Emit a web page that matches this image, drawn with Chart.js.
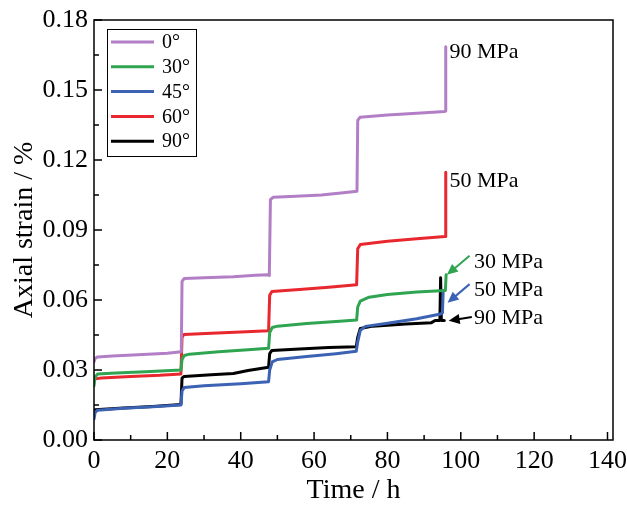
<!DOCTYPE html>
<html>
<head>
<meta charset="utf-8">
<script src="https://cdn.jsdelivr.net/npm/chart.js@4.4.1/dist/chart.umd.min.js"></script>
<style>
  html, body { margin: 0; padding: 0; background: #fff; }
  #wrap { width: 627px; height: 505px; }
</style>
</head>
<body>
<div id="wrap"><canvas id="strainChart" width="627" height="505"></canvas></div>
<script>
// Series labels (bedding angle)
const angleLabels = ['0°', '30°', '45°', '60°', '90°'];

// 0 deg
const time0 = [0, 0.3, 1, 5, 12, 20, 23.8, 24.0, 24.6, 30, 38, 44, 47.4, 47.8, 48.1, 48.8, 55, 62, 68, 71.7, 71.9, 72.5, 80, 88, 95.6, 95.8, 95.9];
const strain0 = [0.0335, 0.0350, 0.0356, 0.0360, 0.0365, 0.0372, 0.0378, 0.0680, 0.0692, 0.0695, 0.0700, 0.0706, 0.0708, 0.0705, 0.1030, 0.1040, 0.1045, 0.1050, 0.1060, 0.1066, 0.1370, 0.1383, 0.1393, 0.1400, 0.1408, 0.1410, 0.1685];

// 30 deg
const time30 = [0, 0.3, 1, 6, 14, 23.7, 24.0, 24.6, 26, 34, 42, 47.6, 47.9, 48.6, 50, 58, 66, 71.6, 71.9, 72.6, 75, 80, 88, 95.8, 96.0];
const strain30 = [0.0232, 0.0270, 0.0283, 0.0287, 0.0292, 0.0300, 0.0345, 0.0362, 0.0368, 0.0378, 0.0387, 0.0393, 0.0460, 0.0482, 0.0488, 0.0499, 0.0508, 0.0514, 0.0570, 0.0595, 0.0612, 0.0624, 0.0634, 0.0641, 0.0708];

// 45 deg
const time45 = [0, 0.3, 1, 8, 16, 23.7, 24.0, 24.6, 30, 40, 47.6, 47.9, 48.6, 50, 58, 66, 71.5, 71.9, 72.6, 74, 80, 88, 94.5, 95.0, 95.2];
const strain45 = [0.0090, 0.0118, 0.0128, 0.0136, 0.0143, 0.0150, 0.0210, 0.0225, 0.0232, 0.0241, 0.0250, 0.0300, 0.0335, 0.0345, 0.0358, 0.0370, 0.0380, 0.0420, 0.0470, 0.0487, 0.0500, 0.0520, 0.0540, 0.0545, 0.0640];

// 60 deg
const time60 = [0, 0.3, 2, 10, 18, 23.7, 24.0, 24.5, 32, 40, 47.6, 47.9, 48.5, 56, 64, 71.6, 71.9, 72.6, 80, 88, 95.7, 95.9];
const strain60 = [0.0255, 0.0262, 0.0266, 0.0272, 0.0277, 0.0283, 0.0440, 0.0452, 0.0458, 0.0463, 0.0468, 0.0620, 0.0636, 0.0645, 0.0655, 0.0665, 0.0820, 0.0838, 0.0852, 0.0863, 0.0872, 0.1148];

// 90 deg
const time90 = [0, 0.3, 8, 16, 23.7, 24.0, 24.5, 32, 38, 42, 47.6, 47.9, 48.5, 56, 64, 71.5, 71.9, 72.6, 76, 85, 92, 93, 94.3, 94.5, 94.7, 95.5];
const strain90 = [0.0125, 0.0130, 0.0137, 0.0144, 0.0152, 0.0265, 0.0272, 0.0280, 0.0285, 0.0298, 0.0312, 0.0370, 0.0384, 0.0390, 0.0396, 0.0400, 0.0440, 0.0478, 0.0488, 0.0497, 0.0503, 0.0512, 0.0512, 0.0695, 0.0512, 0.0512];

// Axis ticks
const xTicks = [0, 20, 40, 60, 80, 100, 120, 140];
const yTicks = [0, 0.03, 0.06, 0.09, 0.12, 0.15, 0.18];

// Stress labels at the end of each creep test
const stressLabels = ['90 MPa', '50 MPa', '30 MPa', '50 MPa', '90 MPa'];

const seriesTimes = [time0, time30, time45, time60, time90];
const seriesStrains = [strain0, strain30, strain45, strain60, strain90];
const lineColors = ['#b27fc6', '#2fa552', '#3c62b4', '#e8282e', '#000000'];

const serif = "'Liberation Serif', 'Times New Roman', serif";

const datasets = angleLabels.map((label, i) => ({
    label: label,
    data: seriesTimes[i].map((t, k) => ({ x: t, y: seriesStrains[i][k] })),
    borderColor: lineColors[i],
    backgroundColor: lineColors[i],
    borderWidth: 3,
    pointRadius: 0,
    tension: 0,
    borderJoinStyle: 'round',
    borderCapStyle: 'round',
    fill: false
}));

// Frame and inward major/minor ticks
const frameTicks = {
    id: 'frameTicks',
    afterDraw(chart) {
        const { ctx, chartArea: a, scales: { x, y } } = chart;
        ctx.save();
        ctx.strokeStyle = '#000';
        ctx.lineWidth = 1.5;
        ctx.strokeRect(a.left, a.top, a.right - a.left, a.bottom - a.top);
        ctx.beginPath();
        for (let v = 0; v <= 140; v += 10) {
            const px = x.getPixelForValue(v);
            const len = v % 20 === 0 ? 8 : 5;
            ctx.moveTo(px, a.bottom);
            ctx.lineTo(px, a.bottom - len);
        }
        for (let i = 0; i <= 12; i++) {
            const py = y.getPixelForValue(i * 0.015);
            const len = i % 2 === 0 ? 8 : 5;
            ctx.moveTo(a.left, py);
            ctx.lineTo(a.left + len, py);
        }
        ctx.stroke();
        ctx.restore();
    }
};

// Legend box in the top left corner
const boxLegend = {
    id: 'boxLegend',
    afterDraw(chart) {
        const { ctx, chartArea: a } = chart;
        const left = a.left + 13, top = a.top + 9;
        ctx.save();
        ctx.fillStyle = '#fff';
        ctx.fillRect(left, top, 89, 127);
        ctx.strokeStyle = '#000';
        ctx.lineWidth = 1;
        ctx.strokeRect(left + 0.5, top + 0.5, 89, 127);
        ctx.font = '20px ' + serif;
        ctx.textBaseline = 'middle';
        chart.data.datasets.forEach((ds, i) => {
            const cy = top + 13 + i * 24.8;
            ctx.strokeStyle = ds.borderColor;
            ctx.lineWidth = 3;
            ctx.beginPath();
            ctx.moveTo(left + 4, cy);
            ctx.lineTo(left + 47, cy);
            ctx.stroke();
            ctx.fillStyle = '#000';
            ctx.fillText(ds.label, left + 55, cy + 1);
        });
        ctx.restore();
    }
};

// Stress annotations (in data coordinates) with arrows
const stressNotes = {
    id: 'stressNotes',
    afterDatasetsDraw(chart) {
        const { ctx, scales: { x, y } } = chart;
        const notes = [
            { t: 96.9, s: 0.1663, arrow: null },
            { t: 96.9, s: 0.1110, arrow: null },
            { t: 103.6, s: 0.0760, arrow: [102.4, 0.0790, 96.2, 0.0708], color: lineColors[1] },
            { t: 103.6, s: 0.0644, arrow: [102.4, 0.0668, 96.4, 0.0588], color: lineColors[2] },
            { t: 103.6, s: 0.0524, arrow: [103.0, 0.0527, 96.7, 0.0511], color: '#000' }
        ];
        ctx.save();
        ctx.font = '22px ' + serif;
        ctx.textBaseline = 'middle';
        ctx.fillStyle = '#000';
        notes.forEach((n, i) => {
            ctx.fillText(stressLabels[i], x.getPixelForValue(n.t), y.getPixelForValue(n.s));
            if (n.arrow) {
                const x1 = x.getPixelForValue(n.arrow[0]), y1 = y.getPixelForValue(n.arrow[1]);
                const x2 = x.getPixelForValue(n.arrow[2]), y2 = y.getPixelForValue(n.arrow[3]);
                const ang = Math.atan2(y2 - y1, x2 - x1);
                ctx.strokeStyle = n.color;
                ctx.fillStyle = n.color;
                ctx.lineWidth = 2;
                ctx.beginPath();
                ctx.moveTo(x1, y1);
                ctx.lineTo(x2 - 8 * Math.cos(ang), y2 - 8 * Math.sin(ang));
                ctx.stroke();
                ctx.beginPath();
                ctx.moveTo(x2, y2);
                ctx.lineTo(x2 - 11 * Math.cos(ang) + 5 * Math.sin(ang), y2 - 11 * Math.sin(ang) - 5 * Math.cos(ang));
                ctx.lineTo(x2 - 11 * Math.cos(ang) - 5 * Math.sin(ang), y2 - 11 * Math.sin(ang) + 5 * Math.cos(ang));
                ctx.closePath();
                ctx.fill();
                ctx.fillStyle = '#000';
            }
        });
        ctx.restore();
    }
};

const ctx = document.getElementById('strainChart').getContext('2d');
const strainChart = new Chart(ctx, {
    type: 'line',
    data: { datasets: datasets },
    options: {
        responsive: false,
        animation: false,
        layout: { padding: { top: 20, right: 14, left: 0, bottom: 0 } },
        plugins: {
            legend: { display: false },
            tooltip: { enabled: false }
        },
        scales: {
            x: {
                type: 'linear',
                min: 0,
                max: 141.5,
                grid: { display: false, drawTicks: false },
                border: { display: false },
                afterBuildTicks: (scale) => { scale.ticks = xTicks.map(v => ({ value: v })); },
                afterFit: (scale) => {
                    scale.height = 65;
                    scale.paddingLeft = 0;
                    scale.paddingRight = 0;
                },
                ticks: {
                    padding: 6,
                    color: '#000',
                    font: { family: serif, size: 26 },
                    maxRotation: 0
                },
                title: {
                    display: true,
                    text: 'Time / h',
                    color: '#000',
                    font: { family: serif, size: 28, lineHeight: 1 },
                    padding: { top: 0, bottom: 0 }
                }
            },
            y: {
                min: 0,
                max: 0.18,
                grid: { display: false, drawTicks: false },
                border: { display: false },
                afterBuildTicks: (scale) => { scale.ticks = yTicks.map(v => ({ value: v })); },
                afterFit: (scale) => {
                    scale.width = 94;
                    scale.paddingTop = 0;
                    scale.paddingBottom = 0;
                },
                ticks: {
                    padding: 6,
                    color: '#000',
                    font: { family: serif, size: 26 },
                    callback: (v) => v.toFixed(2)
                },
                title: {
                    display: true,
                    text: 'Axial strain / %',
                    color: '#000',
                    font: { family: serif, size: 28, lineHeight: 1 },
                    padding: { top: 11, bottom: 0 }
                }
            }
        }
    },
    plugins: [frameTicks, boxLegend, stressNotes]
});
</script>
</body>
</html>
